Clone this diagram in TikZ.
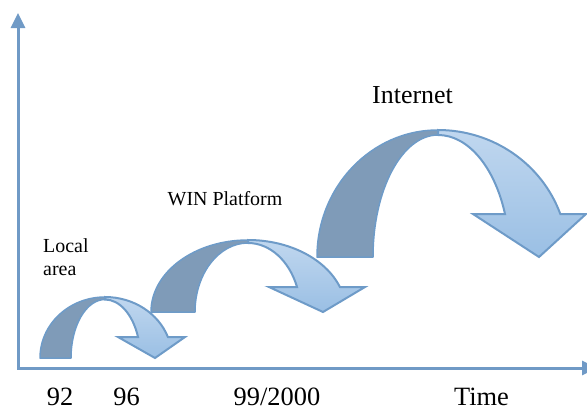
\documentclass[tikz,border=0pt]{standalone}
\usepackage{fontspec}
\setmainfont{Liberation Serif}
\usetikzlibrary{arrows.meta}

\definecolor{axisblue}{RGB}{112,154,198}
\definecolor{bandedge}{RGB}{110,155,200}
\definecolor{bandback}{RGB}{127,155,184}
\definecolor{bandtop}{RGB}{192,215,239}
\definecolor{bandbottom}{RGB}{154,191,228}

\tikzset{
  axisline/.style={draw=axisblue, line width=3bp, line join=miter,
    {Triangle[width=14bp,length=15bp]}-{Triangle[width=14bp,length=15bp]}},
  backband/.style={fill=bandback, draw=bandedge, line width=1.5bp, line join=round},
  frontband/.style={top color=bandtop, bottom color=bandbottom, draw=bandedge,
    line width=2bp, line join=miter},
  lbl/.style={inner sep=0pt, text=black},
}

% Parameters of one curved jump arrow
\pgfkeys{/jump/.cd,
  cx/.store in=\jcx,         % x of the apex
  base/.store in=\jbase,     % y of the leg foot and of the tip
  outer ry/.store in=\jryo,  % height of the outer edge
  inner ry/.store in=\jryi,  % height of the inner edge
  back outer/.store in=\jbo, % x radii of the rising (back) half
  back inner/.store in=\jbi,
  front outer/.store in=\jfo,% x radii of the falling (front) half
  front inner/.store in=\jfi,
  head/.store in=\jhh,       % height of the head
  head left/.store in=\jhl,
  head right/.store in=\jhr,
  tip/.store in=\jtip,
}

% Back half rises from the left leg to the apex; front half falls from the
% apex into a downward pointing head.
\newcommand\jumparrow[1]{%
  \pgfkeys{/jump/.cd,#1}%
  \pgfmathsetmacro\jto{asin(\jhh/\jryo)}%
  \pgfmathsetmacro\jti{asin(\jhh/\jryi)}%
  \pgfmathsetmacro\jin{\jcx+\jfi*cos(\jti)}%
  \filldraw[backband] (\jcx-\jbo,\jbase)
    arc[start angle=180, end angle=90, x radius=\jbo, y radius=\jryo]
    -- (\jcx,\jbase+\jryi)
    arc[start angle=90, end angle=180, x radius=\jbi, y radius=\jryi] -- cycle;
  \filldraw[frontband] (\jcx,\jbase+\jryo)
    arc[start angle=90, end angle=\jto, x radius=\jfo, y radius=\jryo]
    -- (\jhr,\jbase+\jhh) -- (\jtip,\jbase) -- (\jhl,\jbase+\jhh) -- (\jin,\jbase+\jhh)
    arc[start angle=\jti, end angle=90, x radius=\jfi, y radius=\jryi] -- cycle;
}

\begin{document}
\begin{tikzpicture}[x=1bp, y=1bp]
  \useasboundingbox (0,0) rectangle (587,410);

  % axes
  \coordinate (origin) at (18,42);
  \coordinate (ytip) at (18,397);
  \coordinate (xtip) at (597,42);
  \draw[axisline] (ytip) -- (origin) -- (xtip);

  % the three jumps
  \jumparrow{cx=105, base=52, outer ry=61, inner ry=58.5,
    back outer=65, back inner=34, front outer=67, front inner=35.4,
    head=21, head left=118, head right=185, tip=155}
  \jumparrow{cx=248, base=98, outer ry=72, inner ry=69,
    back outer=97, back inner=53, front outer=98, front inner=52.6,
    head=25, head left=269, head right=365, tip=323}
  \jumparrow{cx=438, base=153, outer ry=127, inner ry=122,
    back outer=121, back inner=65, front outer=130, front inner=71.6,
    head=43, head left=473, head right=586, tip=539}

  % stage labels
  \node[lbl, font=\fontsize{20}{24}\selectfont, anchor=base west] (local) at (43,158) {Local};
  \node[lbl, font=\fontsize{20}{24}\selectfont, anchor=base west] (area) at (43,135) {area};
  \node[lbl, font=\fontsize{20}{24}\selectfont, anchor=base] (win) at (225,205) {WIN Platform};
  \node[lbl, font=\fontsize{26}{30}\selectfont, anchor=base] (internet) at (412.5,307) {Internet};

  % time axis labels
  \node[lbl, font=\fontsize{26.5}{30}\selectfont, anchor=base] (y92) at (60,5) {92};
  \node[lbl, font=\fontsize{26.5}{30}\selectfont, anchor=base] (y96) at (126.5,5) {96};
  \node[lbl, font=\fontsize{26.5}{30}\selectfont, anchor=base] (y99) at (277,5) {99/2000};
  \node[lbl, font=\fontsize{26.5}{30}\selectfont, anchor=base] (time) at (481.5,5) {Time};
\end{tikzpicture}
\end{document}
